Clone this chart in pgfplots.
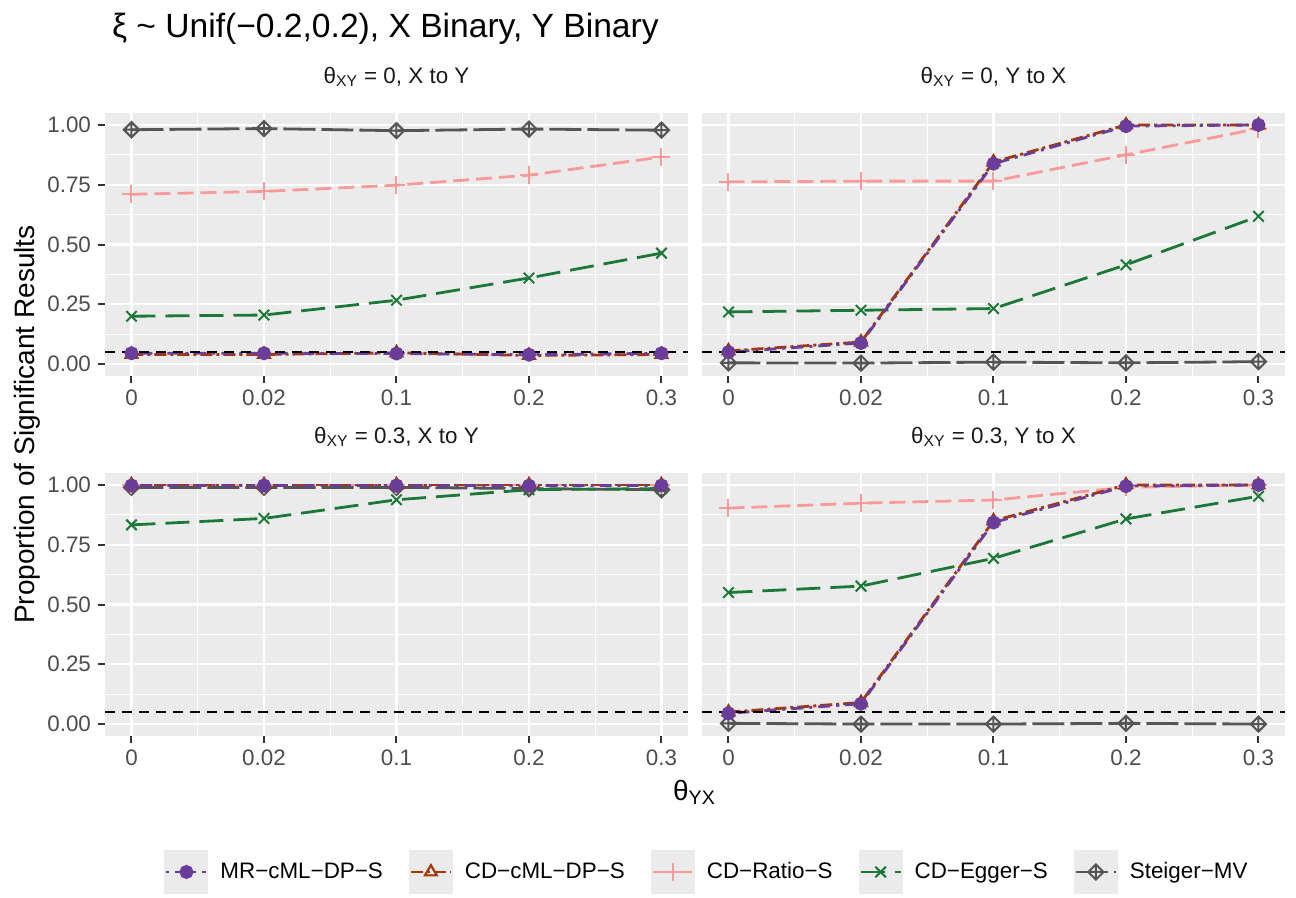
\documentclass[border=0pt]{standalone}
\usepackage{fontspec}
\setmainfont{Liberation Sans}
\usepackage{pgfplots}
\pgfplotsset{compat=1.18}
\usepgfplotslibrary{groupplots}
\definecolor{ggbg}{HTML}{EBEBEB}
\definecolor{cMR}{HTML}{6A3D9A}
\definecolor{cCD}{HTML}{A63603}
\definecolor{cRatio}{HTML}{FB9A99}
\definecolor{cEgger}{HTML}{1B7837}
\definecolor{cSteiger}{HTML}{555555}
\definecolor{tickc}{HTML}{4D4D4D}
\definecolor{tickm}{HTML}{333333}

\pgfdeclareplotmark{diamondplus}{%
  \pgfpathmoveto{\pgfqpoint{\pgfplotmarksize}{0pt}}%
  \pgfpathlineto{\pgfqpoint{0pt}{\pgfplotmarksize}}%
  \pgfpathlineto{\pgfqpoint{-\pgfplotmarksize}{0pt}}%
  \pgfpathlineto{\pgfqpoint{0pt}{-\pgfplotmarksize}}%
  \pgfpathclose
  \pgfpathmoveto{\pgfqpoint{\pgfplotmarksize}{0pt}}%
  \pgfpathlineto{\pgfqpoint{-\pgfplotmarksize}{0pt}}%
  \pgfpathmoveto{\pgfqpoint{0pt}{\pgfplotmarksize}}%
  \pgfpathlineto{\pgfqpoint{0pt}{-\pgfplotmarksize}}%
  \pgfusepathqstroke
}

\pgfplotsset{
  ggstyle/.style={
    scale only axis, width=291.5pt, height=131.5pt,
    xmin=-0.2, xmax=4.2, ymin=-0.05, ymax=1.05,
    xtick={0,1,2,3,4}, xticklabels={0,0.02,0.1,0.2,0.3},
    ytick={0,0.25,0.5,0.75,1},
    yticklabels={0.00,0.25,0.50,0.75,1.00},
    minor xtick={0.5,1.5,2.5,3.5},
    minor ytick={0.125,0.375,0.625,0.875},
    grid=both,
    major grid style={white, line width=1.1pt},
    minor grid style={white, line width=0.55pt},
    axis background/.style={fill=ggbg},
    axis line style={draw=none},
    tick align=outside,
    xtick pos=left, ytick pos=left,
    major tick length=3.5pt, minor tick length=0pt,
    tick style={color=tickm, line width=1pt},
    ticklabel style={font=\fontsize{11.2}{13}\selectfont, text=tickc},
    title style={font=\fontsize{11.2}{13}\selectfont, text=black!90, at={(0.5,1)}, anchor=base, yshift=9pt},
  },
  sMR/.style={cMR, line width=1.4pt, dash pattern=on 1.5pt off 3pt on 6pt off 3pt, mark=*, mark size=2.8pt, mark options={solid, fill=cMR}},
  sCD/.style={cCD, line width=1.4pt, dash pattern=on 6pt off 2pt on 1.5pt off 2pt, mark=triangle, mark size=3.4pt, mark options={solid, line width=1.1pt}},
  sRatio/.style={cRatio, line width=1.4pt, dash pattern=on 8pt off 3.5pt, mark=+, mark size=4.5pt, mark options={solid, line width=1pt}},
  sEgger/.style={cEgger, line width=1.4pt, dash pattern=on 12pt off 5pt, mark=x, mark size=3.7pt, mark options={solid, line width=1pt}},
  sSteiger/.style={cSteiger, line width=1.4pt, dash pattern=on 16pt off 3pt, mark=diamondplus, mark size=3.8pt, mark options={solid, line width=1pt}},
  sRef/.style={forget plot, black, line width=1.3pt, dash pattern=on 5pt off 3.5pt},
}

\begin{document}
\begin{tikzpicture}
\begin{groupplot}[
  group style={group size=2 by 2, horizontal sep=7pt, vertical sep=48.5pt},
  ggstyle,
]
% ---------- theta_XY = 0, X to Y
\nextgroupplot[title={θ\textsubscript{XY} = 0, X to Y}]
\addplot[sSteiger] coordinates {(0,0.980) (1,0.985) (2,0.976) (3,0.983) (4,0.978)};
\addplot[sEgger] coordinates {(0,0.200) (1,0.205) (2,0.267) (3,0.360) (4,0.464)};
\addplot[sRatio] coordinates {(0,0.710) (1,0.722) (2,0.748) (3,0.790) (4,0.866)};
\addplot[sCD] coordinates {(0,0.040) (1,0.040) (2,0.047) (3,0.036) (4,0.040)};
\addplot[sMR] coordinates {(0,0.045) (1,0.045) (2,0.044) (3,0.039) (4,0.045)};
\addplot[sRef] coordinates {(-0.2,0.05) (4.2,0.05)};
% ---------- theta_XY = 0, Y to X
\nextgroupplot[title={θ\textsubscript{XY} = 0, Y to X}, yticklabels={}, ytick style={draw=none}]
\addplot[sSteiger] coordinates {(0,0.005) (1,0.004) (2,0.008) (3,0.005) (4,0.010)};
\addplot[sEgger] coordinates {(0,0.218) (1,0.225) (2,0.232) (3,0.415) (4,0.618)};
\addplot[sRatio] coordinates {(0,0.762) (1,0.765) (2,0.765) (3,0.875) (4,0.985)};
\addplot[sCD] coordinates {(0,0.055) (1,0.092) (2,0.845) (3,1.000) (4,1.000)};
\addplot[sMR] coordinates {(0,0.050) (1,0.088) (2,0.838) (3,0.995) (4,1.000)};
\addplot[sRef] coordinates {(-0.2,0.05) (4.2,0.05)};
% ---------- theta_XY = 0.3, X to Y
\nextgroupplot[title={θ\textsubscript{XY} = 0.3, X to Y}]
\addplot[sSteiger] coordinates {(0,0.990) (1,0.990) (2,0.990) (3,0.985) (4,0.980)};
\addplot[sEgger] coordinates {(0,0.833) (1,0.860) (2,0.938) (3,0.980) (4,0.985)};
\addplot[sRatio] coordinates {(0,1.000) (1,1.000) (2,1.000) (3,1.000) (4,1.000)};
\addplot[sCD] coordinates {(0,1.000) (1,1.000) (2,1.000) (3,1.000) (4,1.000)};
\addplot[sMR] coordinates {(0,0.998) (1,0.998) (2,0.998) (3,0.997) (4,0.998)};
\addplot[sRef] coordinates {(-0.2,0.05) (4.2,0.05)};
% ---------- theta_XY = 0.3, Y to X
\nextgroupplot[title={θ\textsubscript{XY} = 0.3, Y to X}, yticklabels={}, ytick style={draw=none},
  reverse legend,
  legend style={at={(0.012,-0.517)}, anchor=center, draw=none, fill=none,
    legend columns=5, font=\fontsize{11.2}{13}\selectfont,
    /tikz/every even column/.append style={column sep=10pt},
    /tikz/every odd column/.append style={column sep=3pt},
    nodes={inner sep=3pt}},
  legend cell align=left,
  legend image code/.code={%
    \fill[ggbg,draw=none] (0pt,-11pt) rectangle (22pt,11pt);
    \draw[mark repeat=2,mark phase=2,#1] plot coordinates {(1pt,0pt) (11pt,0pt) (21pt,0pt)};},
]
\addplot[sSteiger] coordinates {(0,0.003) (1,0.000) (2,0.000) (3,0.003) (4,0.000)};
\addlegendentry{Steiger−MV}
\addplot[sEgger] coordinates {(0,0.550) (1,0.577) (2,0.693) (3,0.858) (4,0.953)};
\addlegendentry{CD−Egger−S}
\addplot[sRatio] coordinates {(0,0.903) (1,0.924) (2,0.937) (3,0.990) (4,1.000)};
\addlegendentry{CD−Ratio−S}
\addplot[sCD] coordinates {(0,0.050) (1,0.090) (2,0.850) (3,1.000) (4,1.000)};
\addlegendentry{CD−cML−DP−S}
\addplot[sMR] coordinates {(0,0.045) (1,0.085) (2,0.843) (3,0.995) (4,1.000)};
\addlegendentry{MR−cML−DP−S}
\addplot[sRef] coordinates {(-0.2,0.05) (4.2,0.05)};
\end{groupplot}
\node[anchor=base west, font=\fontsize{16.8}{20}\selectfont] at ([xshift=0pt, yshift=38pt]group c1r1.north west) {ξ \textasciitilde{} Unif(−0.2,0.2), X Binary, Y Binary};
\node[rotate=90, anchor=base, font=\fontsize{14}{16}\selectfont] at ([xshift=-35pt, yshift=-155.75pt]group c1r1.north west) {Proportion of Significant Results};
\node[anchor=base, font=\fontsize{14}{16}\selectfont] at ([xshift=3.25pt, yshift=-32pt]group c1r2.south east) {θ\textsubscript{YX}};
\path ([xshift=-52.5pt, yshift=56.5pt]group c1r1.north west) rectangle ([xshift=595.5pt, yshift=-389.5pt]group c1r1.north west);
\end{tikzpicture}
\end{document}
